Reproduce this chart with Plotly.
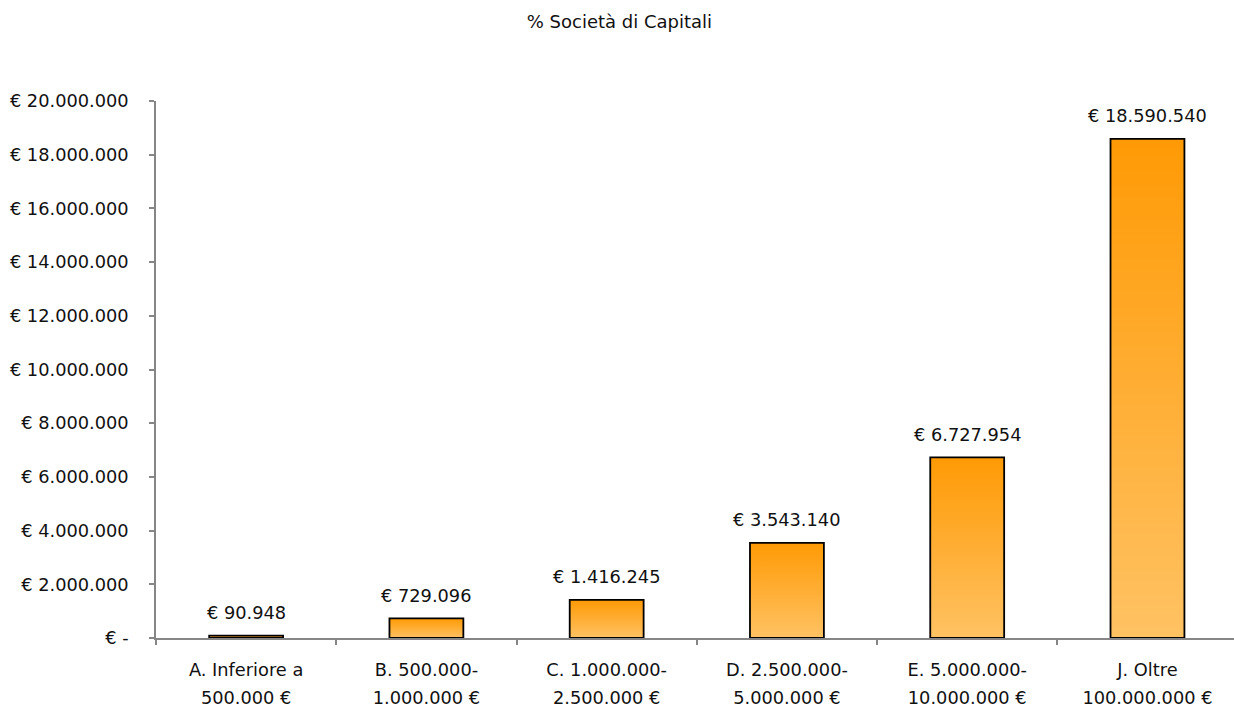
import plotly.graph_objects as go

# Chart data
title_text = "% Società di Capitali"
category_lines = [
    ["A. Inferiore a", "500.000 €"],
    ["B. 500.000-", "1.000.000 €"],
    ["C. 1.000.000-", "2.500.000 €"],
    ["D. 2.500.000-", "5.000.000 €"],
    ["E. 5.000.000-", "10.000.000 €"],
    ["J. Oltre", "100.000.000 €"],
]
values = [90948, 729096, 1416245, 3543140, 6727954, 18590540]
y_tick_values = [0, 2000000, 4000000, 6000000, 8000000, 10000000,
                 12000000, 14000000, 16000000, 18000000, 20000000]
y_tick_labels = ["€ -", "€ 2.000.000", "€ 4.000.000", "€ 6.000.000",
                 "€ 8.000.000", "€ 10.000.000", "€ 12.000.000",
                 "€ 14.000.000", "€ 16.000.000", "€ 18.000.000",
                 "€ 20.000.000"]

FONT = "DejaVu Sans"
TEXT_SIZE = 17.8
TEXT_COLOR = "#111111"
LABEL_LINE_EM = 21.6          # sets the spacing between the two label lines
BAR_WIDTH = 0.41
X_RANGE = [-0.5, 5.48]
Y_RANGE = [0, 20000000]
GRAD_BOTTOM = "#FFC263"
GRAD_TOP = "#FF9A05"
AXIS_GREY = "#868686"


def euro(v):
    return "€ " + f"{v:,}".replace(",", ".")


def two_line(lines):
    span = "<span style='font-size:%spx'>%s</span>"
    return "<br>".join(span % (TEXT_SIZE, t) for t in lines)


categories = [two_line(c) for c in category_lines]

fig = go.Figure()

# Gradient fill of each bar (base subplot, drawn underneath)
for i, v in enumerate(values):
    x0, x1 = i - BAR_WIDTH / 2, i + BAR_WIDTH / 2
    fig.add_trace(go.Scatter(
        x=[x0, x1, x1, x0, x0],
        y=[0, 0, v, v, 0],
        mode="lines",
        fill="toself",
        fillgradient=dict(type="vertical",
                          colorscale=[[0, GRAD_BOTTOM], [1, GRAD_TOP]]),
        line=dict(width=0),
        hoverinfo="skip",
        showlegend=False,
        xaxis="x", yaxis="y",
    ))

# Bar outlines on the overlaying subplot, carrying the visible axes
fig.add_trace(go.Bar(
    x=categories,
    y=values,
    width=BAR_WIDTH,
    marker=dict(color="rgba(0,0,0,0)", line=dict(color="black", width=1.8)),
    showlegend=False,
    xaxis="x2", yaxis="y2",
))

# Value labels above the bars
for i, v in enumerate(values):
    fig.add_annotation(
        x=i, y=v, xref="x", yref="y",
        text=euro(v), showarrow=False,
        yanchor="middle", yshift=23,
        font=dict(family=FONT, size=TEXT_SIZE, color=TEXT_COLOR),
    )

fig.update_layout(
    width=1234, height=708,
    margin=dict(l=156, r=0, t=101, b=70),
    paper_bgcolor="white",
    plot_bgcolor="white",
    font=dict(family=FONT, size=TEXT_SIZE, color=TEXT_COLOR),
    title=dict(text=title_text, x=0.502, xanchor="center",
               y=1 - 22 / 708, yanchor="middle",
               font=dict(family=FONT, size=18, color=TEXT_COLOR)),
    xaxis=dict(range=X_RANGE, visible=False, fixedrange=True),
    yaxis=dict(range=Y_RANGE, visible=False, fixedrange=True),
    xaxis2=dict(
        overlaying="x", range=X_RANGE, type="category",
        categoryorder="array", categoryarray=categories,
        showline=True, linecolor=AXIS_GREY, linewidth=1.5,
        ticks="outside", tickson="boundaries", ticklen=5,
        tickcolor=AXIS_GREY, tickwidth=1.5,
        showgrid=False, zeroline=False, automargin=False,
        tickfont=dict(family=FONT, size=LABEL_LINE_EM, color=TEXT_COLOR),
        ticklabelstandoff=10,
    ),
    yaxis2=dict(
        overlaying="y", range=Y_RANGE,
        tickvals=y_tick_values, ticktext=y_tick_labels,
        showline=True, linecolor=AXIS_GREY, linewidth=1.5,
        ticks="outside", ticklen=5, tickcolor=AXIS_GREY, tickwidth=1.5,
        showgrid=False, zeroline=False, automargin=False,
        tickfont=dict(family=FONT, size=TEXT_SIZE, color=TEXT_COLOR),
        ticklabelstandoff=17,
    ),
)

fig.write_html("out.html")
